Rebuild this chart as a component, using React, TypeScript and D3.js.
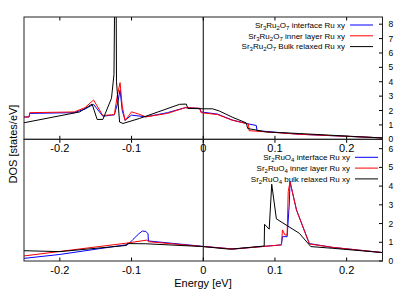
import React from "react";
import * as d3 from "d3";

// energy ticks shared by both panels
const energyTicks = [-0.2, -0.1, 0, 0.1, 0.2];
const topDosTicks = [0, 1, 2, 3, 4, 5, 6, 7, 8];
const bottomDosTicks = [0, 1, 2, 3, 4, 5, 6];

// Sr3Ru2O7 (upper panel), [energy, dos]
const topInterface: [number, number][] = [
  [-0.25, 1.55], [-0.243, 1.55], [-0.242, 1.8], [-0.18, 1.85], [-0.165, 2.1], [-0.153, 2.43],
  [-0.14, 1.6], [-0.128, 1.68], [-0.124, 1.7], [-0.1195, 2.5], [-0.116, 3.43], [-0.113, 2.0],
  [-0.109, 1.33], [-0.1, 1.68], [-0.08, 1.56], [-0.05, 1.85], [-0.025, 2.2], [-0.005, 2.15],
  [-0.003, 1.9], [0.02, 1.75], [0.04, 1.35], [0.06, 1.1], [0.074, 0.96], [0.075, 0.6],
  [0.134, 0.35], [0.25, 0.1],
];
const topInner: [number, number][] = [
  [-0.25, 1.55], [-0.243, 1.55], [-0.242, 1.85], [-0.18, 1.9], [-0.165, 2.2], [-0.153, 2.73],
  [-0.14, 1.65], [-0.128, 1.7], [-0.124, 1.72], [-0.12, 3.0], [-0.116, 3.94], [-0.113, 2.3],
  [-0.109, 1.3], [-0.1, 1.91], [-0.09, 1.75], [-0.08, 1.56], [-0.05, 1.8], [-0.025, 2.2],
  [-0.005, 2.15], [-0.003, 1.85], [0.02, 1.72], [0.04, 1.33], [0.063, 1.06], [0.064, 0.6],
  [0.134, 0.35], [0.25, 0.1],
];
const topBulk: [number, number][] = [
  [-0.25, 1.15], [-0.1725, 1.9], [-0.155, 2.45], [-0.148, 1.38], [-0.14, 1.38], [-0.128, 2.85],
  [-0.1245, 4.5], [-0.1235, 10], [-0.1215, 10], [-0.121, 4.0], [-0.1167, 1.2], [-0.112, 1.1],
  [-0.0888, 1.45], [-0.033, 2.43], [-0.0237, 2.45], [-0.0215, 2.15], [0, 2.12], [0.013, 2.12],
  [0.0227, 1.96], [0.0413, 1.52], [0.06, 1.14], [0.062, 0.75], [0.088, 0.51], [0.134, 0.4],
  [0.25, 0.09],
];

// Sr2RuO4 (lower panel)
const bottomInterface: [number, number][] = [
  [-0.25, 0.14], [-0.2, 0.35], [-0.105, 0.88], [-0.098, 1.15], [-0.09, 1.45], [-0.085, 1.6],
  [-0.08, 1.58], [-0.077, 1.45], [-0.0765, 1.07], [0, 0.78], [0.042, 0.64], [0.109, 0.86],
  [0.1105, 1.3], [0.117, 1.3], [0.12, 3.05], [0.121, 4.24], [0.13, 2.73], [0.148, 0.93],
  [0.18, 0.73], [0.25, 0.45],
];
const bottomInner: [number, number][] = [
  [-0.25, 0.27], [-0.108, 0.95], [-0.078, 1.12], [-0.0765, 1.03], [0, 0.77], [0.042, 0.64],
  [0.109, 0.86], [0.1105, 1.66], [0.114, 1.39], [0.117, 1.39], [0.1185, 3.7], [0.121, 4.24],
  [0.13, 2.73], [0.148, 0.91], [0.18, 0.73], [0.25, 0.45],
];
const bottomBulk: [number, number][] = [
  [-0.25, 0.55], [-0.2, 0.5], [-0.107, 0.83], [-0.106, 0.93], [-0.08, 0.92], [0, 0.77],
  [0.037, 0.63], [0.085, 0.8], [0.0855, 1.96], [0.092, 1.7], [0.0955, 4.1], [0.102, 2.25],
  [0.134, 1.48], [0.15, 0.77], [0.18, 0.68], [0.25, 0.45],
];

const topLabels = [
  "Sr_3Ru_2O_7 interface Ru xy",
  "Sr_3Ru_2O_7 inner layer Ru xy",
  "Sr_3Ru_2O_7 Bulk relaxed Ru xy",
];
const bottomLabels = [
  "Sr_2RuO_4 interface Ru xy",
  "Sr_2RuO_4 inner layer Ru xy",
  "Sr_2RuO_4 bulk relaxed Ru xy",
];
const colors = ["#0000ff", "#ff0000", "#000000"];

const font = "'Liberation Sans', Arial, Helvetica, sans-serif";

// "Sr_3" -> Sr with subscript 3
function SubText({ label }: { label: string }) {
  const parts = label.split(/(_\d)/).filter((p) => p !== "");
  return (
    <>
      {parts.map((p, i) =>
        p.startsWith("_") ? (
          <tspan key={i} fontSize={6} dy={2}>{p.slice(1)}</tspan>
        ) : (
          <tspan key={i} dy={i > 0 && parts[i - 1].startsWith("_") ? -2 : 0}>{p}</tspan>
        )
      )}
    </>
  );
}

function Panel(props: {
  id: string;
  top: number;
  bottom: number;
  yMax: number;
  ticks: number[];
  series: [number, number][][];
  labels: string[];
  legendX: number;
  legendY: number;
  tickLabelY: number;
  x: d3.ScaleLinear<number, number>;
}) {
  const { id, top, bottom, yMax, ticks, series, labels, legendX, legendY, tickLabelY, x } = props;
  const y = d3.scaleLinear().domain([0, yMax]).range([bottom, top]);
  const line = d3.line<[number, number]>().x((d) => x(d[0])).y((d) => y(d[1]));
  const [x0, x1] = x.range();
  return (
    <g>
      <clipPath id={id}>
        <rect x={x0} y={top} width={x1 - x0} height={bottom - top} />
      </clipPath>
      <line x1={x(0)} x2={x(0)} y1={top} y2={bottom} stroke="#000" strokeWidth={1} />
      <g clipPath={`url(#${id})`}>
        {series.map((s, i) => (
          <path key={i} d={line(s) || ""} fill="none" stroke={colors[i]} strokeWidth={1} />
        ))}
      </g>
      {/* legend */}
      {labels.map((l, i) => (
        <g key={l}>
          <text x={legendX} y={legendY + i * 10.8 + 2.8} fontSize={8} textAnchor="end" fontFamily={font}>
            <SubText label={l} />
          </text>
          <line x1={legendX + 5} x2={legendX + 28} y1={legendY + i * 10.8} y2={legendY + i * 10.8}
            stroke={colors[i]} strokeWidth={1} />
        </g>
      ))}
      {/* x ticks, inward on both edges */}
      {energyTicks.map((t) => (
        <g key={t}>
          <line x1={x(t)} x2={x(t)} y1={bottom} y2={bottom - 3.5} stroke="#000" />
          <line x1={x(t)} x2={x(t)} y1={top} y2={top + 3.5} stroke="#000" />
          <text x={x(t)} y={tickLabelY} fontSize={11} textAnchor="middle" fontFamily={font}>
            {t === 0 ? "0" : t.toString()}
          </text>
        </g>
      ))}
      {/* right y axis */}
      {ticks.map((t) => (
        <g key={t}>
          <line x1={x1} x2={x1 - 3.5} y1={y(t)} y2={y(t)} stroke="#000" />
          <text x={388.5} y={y(t) + 3} fontSize={8.5} fontFamily={font}>{t}</text>
        </g>
      ))}
      <rect x={x0} y={top} width={x1 - x0} height={bottom - top} fill="none" stroke="#222" strokeWidth={1} />
    </g>
  );
}

export default function App() {
  const width = 415;
  const height = 291;
  const x = d3.scaleLinear().domain([-0.25, 0.25]).range([24, 382.5]);
  return (
    <svg width={width} height={height} style={{ position: "absolute", left: 0, top: 0, background: "#fff" }}>
      <Panel id="clipTop" top={17} bottom={139.3} yMax={8.5} ticks={topDosTicks}
        series={[topInterface, topInner, topBulk]} labels={topLabels}
        legendX={345} legendY={25} tickLabelY={152} x={x} />
      <Panel id="clipBottom" top={139.3} bottom={261} yMax={6.5} ticks={bottomDosTicks}
        series={[bottomInterface, bottomInner, bottomBulk]} labels={bottomLabels}
        legendX={350} legendY={157.3} tickLabelY={274} x={x} />
      <text x={203} y={287} fontSize={11} textAnchor="middle" fontFamily={font}>Energy [eV]</text>
      <text transform="translate(17,144) rotate(-90)" fontSize={11} textAnchor="middle" fontFamily={font}>
        DOS [states/eV]
      </text>
    </svg>
  );
}
